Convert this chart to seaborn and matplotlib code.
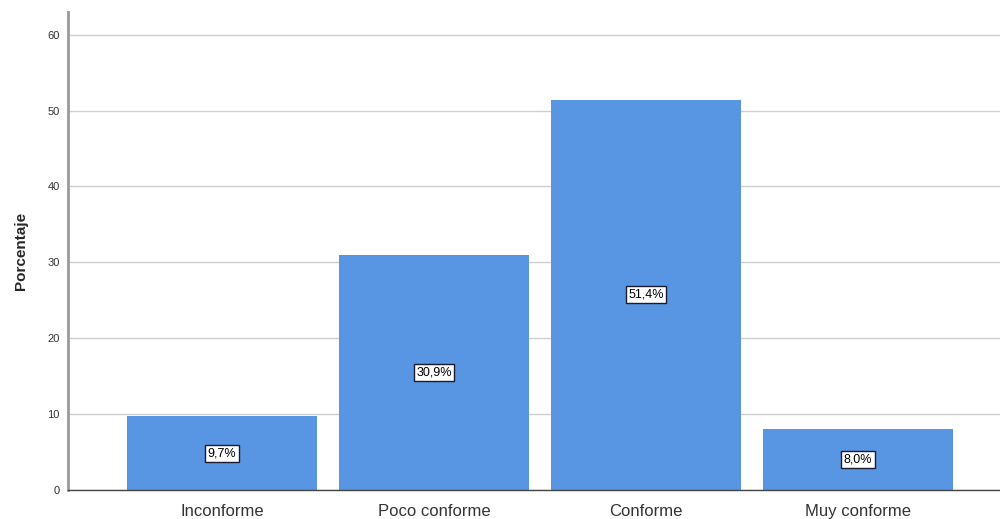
import matplotlib
matplotlib.use("Agg")
import matplotlib.pyplot as plt
import seaborn as sns
import pandas as pd

# datos
categorias = ["Inconforme", "Poco conforme", "Conforme", "Muy conforme"]
porcentajes = [9.7, 30.9, 51.4, 8.0]
etiquetas = ["9,7%", "30,9%", "51,4%", "8,0%"]
y_ticks = [0, 10, 20, 30, 40, 50, 60]

df = pd.DataFrame({"categoria": categorias, "porcentaje": porcentajes})

sns.set_style("white")
plt.rcParams['font.family'] = ['Liberation Sans', 'DejaVu Sans']

fig = plt.figure(figsize=(10, 5.19), dpi=100)
ax = fig.add_axes([0.068, 0.056, 0.932, 0.921])

# rejilla horizontal detrás de las barras
ax.set_axisbelow(True)
ax.yaxis.grid(True, color="#cfcfcf", linewidth=1.0)

sns.barplot(data=df, x="categoria", y="porcentaje", color="#5896E3",
            saturation=1, width=0.896, linewidth=0, ax=ax)

# etiquetas de porcentaje en el centro de cada barra
for i, (v, t) in enumerate(zip(porcentajes, etiquetas)):
    ax.text(i, v / 2, t, ha="center", va="center", fontsize=9, color="black",
            bbox=dict(boxstyle="square,pad=0.2", facecolor="white",
                      edgecolor="#1a1a2e", linewidth=1.0))

ax.set_ylim(0, 63)
ax.set_xlim(-0.726, 3.67)
ax.set_yticks(y_ticks)
ax.tick_params(axis="y", labelsize=8, colors="#333333", length=0, pad=6)
ax.tick_params(axis="x", labelsize=12, colors="#333333", length=0, pad=10)

ax.set_xlabel("")
ax.set_ylabel("Porcentaje", fontsize=11, fontweight="bold", labelpad=14)

for s in ["top", "right"]:
    ax.spines[s].set_visible(False)
ax.spines["left"].set_color("#999999")
ax.spines["left"].set_linewidth(2)
ax.spines["bottom"].set_color("#444444")
ax.spines["bottom"].set_linewidth(1)

plt.savefig("out.png", dpi=100)
